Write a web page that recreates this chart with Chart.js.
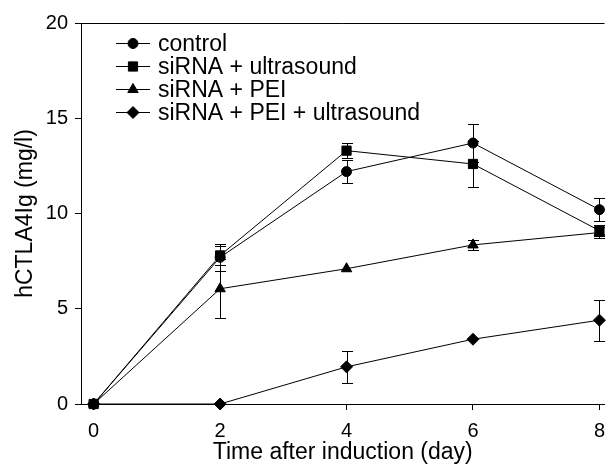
<!DOCTYPE html>
<html>
<head>
<meta charset="utf-8">
<script src="https://cdn.jsdelivr.net/npm/chart.js@4.4.0/dist/chart.umd.min.js"></script>
<style>
  html, body { margin: 0; padding: 0; background: #fff; }
</style>
</head>
<body>
<canvas id="chart" width="612" height="466"></canvas>
<script>
// days after induction
const days = [0, 2, 4, 6, 8];
const seriesNames = ["control", "siRNA + ultrasound", "siRNA + PEI", "siRNA + PEI + ultrasound"];

// hCTLA4Ig (mg/l), mean and error per day
const controlVals = [0, 7.7, 12.2, 13.7, 10.2];
const controlErr = [0, 0.7, 0.6, 1.0, 0.6];
const usVals = [0, 7.8, 13.3, 12.6, 9.1];
const usErr = [0, 0.5, 0.4, 1.2, 0.3];
const peiVals = [0, 6.05, 7.1, 8.35, 9.0];
const peiErr = [0, 1.55, 0, 0.25, 0.3];
const peiUsVals = [0, 0, 1.95, 3.4, 4.4];
const peiUsErr = [0, 0, 0.85, 0, 1.07];

const xTicks = [0, 2, 4, 6, 8];
const yTicks = [0, 5, 10, 15, 20];

const FONT = '"Liberation Sans", Arial, sans-serif';
Chart.defaults.font.family = FONT;
Chart.defaults.color = "#000";

function makeSet(name, vals, errs, style, r) {
  return {
    label: name,
    data: days.map((d, i) => ({ x: d, y: vals[i] })),
    errors: errs,
    borderColor: "#000",
    backgroundColor: "#000",
    borderWidth: 1,
    pointStyle: style,
    pointRadius: r,
    pointBorderWidth: 1,
    pointBackgroundColor: "#000",
    pointBorderColor: "#000",
    tension: 0,
    clip: false
  };
}

// vertical error bars with caps
const errorBars = {
  id: "errorBars",
  afterDatasetsDraw(chart) {
    const ctx = chart.ctx, xs = chart.scales.x, ys = chart.scales.y;
    ctx.save();
    ctx.strokeStyle = "#000";
    ctx.lineWidth = 1;
    chart.data.datasets.forEach(ds => {
      ds.data.forEach((p, j) => {
        const e = ds.errors[j];
        if (!e) return;
        const x = Math.round(xs.getPixelForValue(p.x)) + 0.5;
        const yt = Math.round(ys.getPixelForValue(p.y + e)) + 0.5;
        const yb = Math.round(ys.getPixelForValue(p.y - e)) + 0.5;
        ctx.beginPath();
        ctx.moveTo(x, yt); ctx.lineTo(x, yb);
        ctx.moveTo(x - 5.5, yt); ctx.lineTo(x + 5.5, yt);
        ctx.moveTo(x - 5.5, yb); ctx.lineTo(x + 5.5, yb);
        ctx.stroke();
      });
    });
    ctx.restore();
  }
};

// top frame line
const topFrame = {
  id: "topFrame",
  beforeDatasetsDraw(chart) {
    const ctx = chart.ctx, a = chart.chartArea;
    ctx.save();
    ctx.strokeStyle = "#000";
    ctx.lineWidth = 1;
    ctx.beginPath();
    ctx.moveTo(a.left, Math.round(a.top) + 0.5);
    ctx.lineTo(a.right, Math.round(a.top) + 0.5);
    ctx.stroke();
    ctx.restore();
  }
};

// legend inside the plot, top left
const insideLegend = {
  id: "insideLegend",
  afterDraw(chart) {
    const ctx = chart.ctx, a = chart.chartArea;
    chart.data.datasets.forEach((ds, i) => {
      const y = Math.round(a.top + 20 + i * 23) + 0.5;
      const x1 = a.left + 35, x2 = a.left + 69;
      ctx.save();
      ctx.strokeStyle = "#000";
      ctx.fillStyle = "#000";
      ctx.lineWidth = 1;
      ctx.beginPath();
      ctx.moveTo(x1, y); ctx.lineTo(x2, y);
      ctx.stroke();
      Chart.helpers.drawPoint(ctx, { pointStyle: ds.pointStyle, radius: ds.pointRadius, borderWidth: 1, rotation: 0 }, (x1 + x2) / 2, y);
      ctx.font = "23px " + FONT;
      ctx.textBaseline = "middle";
      ctx.fillText(ds.label, a.left + 77, y + 1);
      ctx.restore();
    });
  }
};

new Chart(document.getElementById("chart"), {
  type: "line",
  data: {
    datasets: [
      makeSet(seriesNames[0], controlVals, controlErr, "circle", 5),
      makeSet(seriesNames[1], usVals, usErr, "rect", 6.5),
      makeSet(seriesNames[2], peiVals, peiErr, "triangle", 6),
      makeSet(seriesNames[3], peiUsVals, peiUsErr, "rectRot", 6)
    ]
  },
  options: {
    responsive: false,
    animation: false,
    devicePixelRatio: 1,
    layout: { padding: { top: 23, left: 0, right: 0, bottom: 0 } },
    plugins: { legend: { display: false }, tooltip: { enabled: false } },
    scales: {
      x: {
        type: "linear",
        min: -0.2,
        max: 8.08,
        afterBuildTicks: s => { s.ticks = xTicks.map(v => ({ value: v })); },
        grid: { drawOnChartArea: false, color: "#000", tickLength: 6 },
        border: { color: "#000", width: 1 },
        ticks: { font: { size: 20 }, color: "#000", padding: 9, maxRotation: 0, autoSkip: false },
        title: { display: true, text: "Time after induction (day)", font: { size: 23 }, color: "#000", padding: { top: 0, bottom: 0 } },
        afterFit: s => { s.height = 62; s.paddingLeft = 0; s.paddingRight = 0; }
      },
      y: {
        min: 0,
        max: 20,
        afterBuildTicks: s => { s.ticks = yTicks.map(v => ({ value: v })); },
        grid: { drawOnChartArea: false, color: "#000", tickLength: 6 },
        border: { color: "#000", width: 1 },
        ticks: { font: { size: 20 }, color: "#000", padding: 7 },
        title: { display: true, text: "hCTLA4Ig (mg/l)", font: { size: 23 }, color: "#000", padding: { top: 12, bottom: 0 } },
        afterFit: s => { s.width = 81; s.paddingTop = 0; s.paddingBottom = 0; }
      }
    }
  },
  plugins: [topFrame, errorBars, insideLegend]
});
</script>
</body>
</html>
